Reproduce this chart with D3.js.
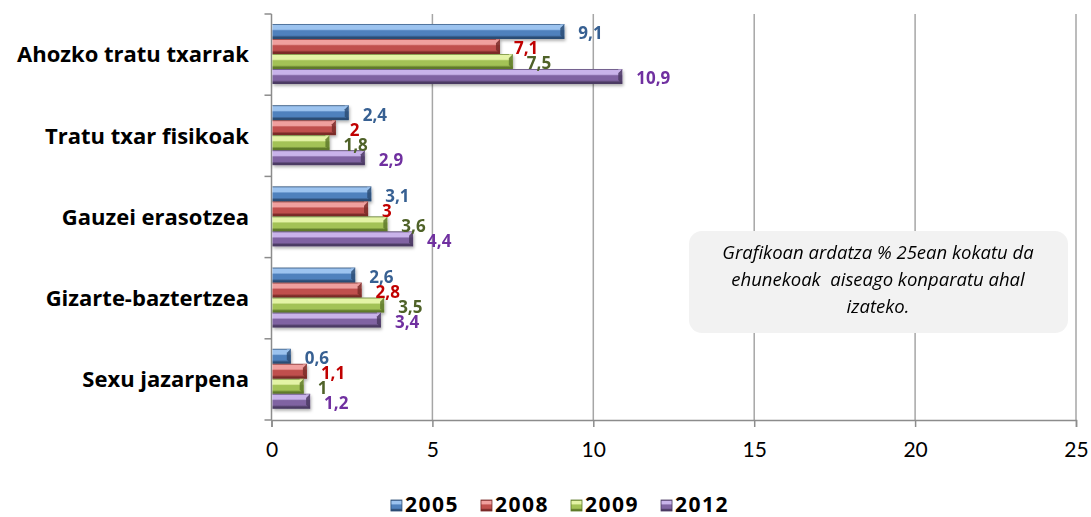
<!DOCTYPE html>
<meta charset="utf-8">
<head>
  <title>Tratu txarrak</title>
</head>
<style>
  body { margin: 0; background: #fff; }
  .cat { font: bold 22px "Open Sans"; fill: #000; text-anchor: end; }
  .tick text { font: 21px Lato; fill: #000; }
  .val { font: bold 17px "Open Sans"; }
  .legend text { font: bold 21px "Open Sans"; fill: #000; letter-spacing: 1.5px; }
  .note { font: italic 18.5px "Open Sans"; fill: #000; text-anchor: middle; }
</style>
<body>
<script src="https://cdn.jsdelivr.net/npm/d3@7"></script>
<script>
// data
var categories = ["Ahozko tratu txarrak", "Tratu txar fisikoak", "Gauzei erasotzea", "Gizarte-baztertzea", "Sexu jazarpena"];
var years = ["2005", "2008", "2009", "2012"];
var v2005 = [9.1, 2.4, 3.1, 2.6, 0.6];
var v2008 = [7.1, 2, 3, 2.8, 1.1];
var v2009 = [7.5, 1.8, 3.6, 3.5, 1];
var v2012 = [10.9, 2.9, 4.4, 3.4, 1.2];
var xTicks = [0, 5, 10, 15, 20, 25];
var noteLines = ["Grafikoan ardatza % 25ean kokatu da", "ehunekoak  aiseago konparatu ahal", "izateko."];

var series = [v2005, v2008, v2009, v2012];

// colours per year: light, main, dark, label
var pal = [
  {light: "#9cc3ef", main: "#4f81bd", dark: "#2c4d75", label: "#376092"},
  {light: "#f0a09e", main: "#c0504d", dark: "#7a2a28", label: "#c00000"},
  {light: "#e4f3a6", main: "#a3c256", dark: "#5f7a2a", label: "#4f6228"},
  {light: "#c9b3ea", main: "#8064a2", dark: "#4b3a63", label: "#7030a0"}
];

var W = 1091, H = 517;

var x = d3.scaleLinear().domain([0, 25]).range([271.5, 1076]);
var y = d3.scaleBand().domain(categories).range([14, 420]).paddingInner(0).paddingOuter(0);
var ySub = d3.scaleBand().domain(years).range([10, 70]).padding(0);

var fmt = d3.formatLocale({decimal: ",", thousands: ".", grouping: [3], currency: ["", ""]}).format("");

var svg = d3.select("body").append("svg")
    .attr("width", W)
    .attr("height", H);

var defs = svg.append("defs");
pal.forEach(function(p, i) {
  var g = defs.append("linearGradient")
      .attr("id", "grad" + i)
      .attr("x1", 0).attr("y1", 0).attr("x2", 0).attr("y2", 1);
  g.append("stop").attr("offset", "0%").attr("stop-color", p.dark);
  g.append("stop").attr("offset", "10%").attr("stop-color", p.light);
  g.append("stop").attr("offset", "35%").attr("stop-color", p.light);
  g.append("stop").attr("offset", "45%").attr("stop-color", p.main);
  g.append("stop").attr("offset", "75%").attr("stop-color", p.main);
  g.append("stop").attr("offset", "88%").attr("stop-color", p.dark);
  g.append("stop").attr("offset", "100%").attr("stop-color", p.dark);
});
var shadow = defs.append("filter").attr("id", "shadow")
    .attr("x", "-5%").attr("y", "-30%").attr("width", "115%").attr("height", "180%");
shadow.append("feDropShadow")
    .attr("dx", 1).attr("dy", 2).attr("stdDeviation", 1.5)
    .attr("flood-color", "#000").attr("flood-opacity", 0.3);

// gridlines
svg.append("g")
    .selectAll("line")
    .data(xTicks.slice(1))
    .enter().append("line")
    .attr("x1", function(d) { return x(d); })
    .attr("x2", function(d) { return x(d); })
    .attr("y1", y.range()[0])
    .attr("y2", y.range()[1])
    .attr("stroke", "#a6a6a6")
    .attr("stroke-width", 1.5);

// x axis
var xAxis = svg.append("g")
    .attr("transform", "translate(0," + y.range()[1] + ")")
    .call(d3.axisBottom(x).tickValues(xTicks).tickSize(7).tickPadding(15).tickFormat(fmt));
xAxis.select(".domain").attr("stroke", "#8c8c8c").attr("stroke-width", 1.5);
xAxis.selectAll(".tick line").attr("stroke", "#8c8c8c").attr("stroke-width", 1.5);

// y axis (ticks at category boundaries)
var yAxis = svg.append("g");
yAxis.append("line")
    .attr("x1", x(0)).attr("x2", x(0))
    .attr("y1", y.range()[0]).attr("y2", y.range()[1])
    .attr("stroke", "#8c8c8c").attr("stroke-width", 1.5);
yAxis.selectAll(".ytick")
    .data(categories.map(function(c) { return y(c); }).concat([y.range()[1]]))
    .enter().append("line")
    .attr("x1", x(0) - 7).attr("x2", x(0))
    .attr("y1", function(d) { return d; })
    .attr("y2", function(d) { return d; })
    .attr("stroke", "#8c8c8c").attr("stroke-width", 1.5);

// category labels
svg.append("g")
    .selectAll("text")
    .data(categories)
    .enter().append("text")
    .attr("class", "cat")
    .attr("x", 249)
    .attr("y", function(d) { return y(d) + y.bandwidth() / 2; })
    .attr("dy", "0.35em")
    .text(function(d) { return d; });

// bars
function bevelBar(g, x0, x1, yy, h, i) {
  var b = Math.min(4, (x1 - x0) / 2);
  var p = pal[i];
  g.append("rect")
      .attr("x", x0).attr("y", yy)
      .attr("width", x1 - x0).attr("height", h)
      .attr("fill", "url(#grad" + i + ")");
  // right bevel cap
  g.append("polygon")
      .attr("points", [[x1 - b, yy + b], [x1, yy], [x1, yy + h], [x1 - b, yy + h - b]].join(" "))
      .attr("fill", p.dark).attr("opacity", 0.85);
  g.append("polygon")
      .attr("points", [[x1 - b, yy + b], [x1, yy], [x1 - b, yy]].join(" "))
      .attr("fill", p.light).attr("opacity", 0.6);
}

var barG = svg.append("g").attr("filter", "url(#shadow)");
categories.forEach(function(c, ci) {
  series.forEach(function(s, si) {
    var yy = y(c) + ySub(years[si]);
    bevelBar(barG, x(0) + 1, x(s[ci]), yy, ySub.bandwidth(), si);
  });
});

// value labels
var labG = svg.append("g");
categories.forEach(function(c, ci) {
  series.forEach(function(s, si) {
    labG.append("text")
        .attr("class", "val")
        .attr("x", x(s[ci]) + 14)
        .attr("y", y(c) + ySub(years[si]) + ySub.bandwidth() / 2 + 2)
        .attr("dy", "0.35em")
        .attr("fill", pal[si].label)
        .text(fmt(s[ci]));
  });
});

// note box
var note = svg.append("g");
note.append("rect")
    .attr("x", 689).attr("y", 231)
    .attr("width", 379).attr("height", 102)
    .attr("rx", 13).attr("ry", 13)
    .attr("fill", "#f2f2f2");
note.selectAll("text")
    .data(noteLines)
    .enter().append("text")
    .attr("class", "note")
    .attr("x", 878)
    .attr("y", function(d, i) { return 259 + i * 27; })
    .style("white-space", "pre")
    .text(function(d) { return d; });

// legend
var legend = svg.append("g").attr("class", "legend");
var items = legend.selectAll("g")
    .data(years)
    .enter().append("g");
items.append("rect")
    .attr("width", 11).attr("height", 11)
    .attr("y", -5)
    .attr("fill", function(d, i) { return "url(#grad" + i + ")"; })
    .attr("stroke", function(d, i) { return pal[i].dark; })
    .attr("stroke-width", 0.8);
items.append("text")
    .attr("x", 14)
    .attr("dy", "0.35em")
    .text(function(d) { return d; });
var lx = 0;
items.each(function() {
  var gw = this.getBBox().width;
  d3.select(this).attr("transform", "translate(" + lx + ",0)");
  lx += gw + 22;
});
lx -= 22;
legend.attr("transform", "translate(" + (560 - lx / 2) + ",505)");
</script>
</body>
